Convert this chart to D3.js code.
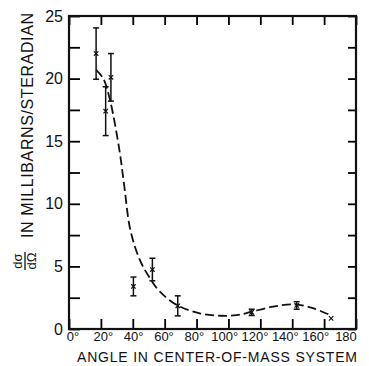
<!DOCTYPE html>
<html>
<head>
<meta charset="utf-8">
<script src="https://cdn.jsdelivr.net/npm/d3@7"></script>
<style>
  body { margin: 0; background: #fff; }
  svg { display: block; font-family: "Liberation Sans", Arial, sans-serif; }
</style>
</head>
<body>
<div id="chart"></div>
<script>
// measured points: angle (deg, CM), cross section (mb/sr), error
const angles = [17, 23, 26.3, 40.4, 52.3, 68.2, 114.6, 142.8, 164.4];
const sigma  = [22.0, 17.4, 20.1, 3.4, 4.75, 1.85, 1.33, 1.88, 0.85];
const errors = [2.05, 1.95, 1.9, 0.75, 0.9, 0.8, 0.25, 0.3, 0];

// dashed fit curve
const curveAngle = [17, 21.5, 25.7, 31.6, 34.5, 38.5, 44.5, 50.8, 57, 67.6, 82, 95, 105, 114.6, 128, 141, 153, 164];
const curveValue = [20.7, 20.0, 18.3, 14.3, 11.6, 7.9, 5.5, 4.05, 2.98, 1.92, 1.25, 1.06, 1.1, 1.38, 1.78, 1.97, 1.66, 1.1];

const xTicks = [0, 20, 40, 60, 80, 100, 120, 140, 160, 180];
const yTicks = [0, 2.5, 5, 7.5, 10, 12.5, 15, 17.5, 20, 22.5, 25];

const W = 369, H = 366;
const svg = d3.select("#chart").append("svg")
    .attr("width", W)
    .attr("height", H);

const x = d3.scaleLinear().domain([0, 180]).range([69, 356]);
const y = d3.scaleLinear().domain([0, 25]).range([329, 16]);
// tick labels sit a little off their ticks in the original
const xLab = d3.scaleLinear().domain([0, 180]).range([73, 346]);

// inward ticks on all four sides
svg.append("g")
    .attr("transform", `translate(${x(0)},0)`)
    .call(d3.axisLeft(y).tickValues(yTicks).tickSizeInner(-11).tickSizeOuter(0).tickPadding(6)
        .tickFormat(d => d % 5 === 0 ? d : ""))
    .call(g => g.select(".domain").remove())
    .call(g => g.selectAll("line").attr("stroke-width", 1.8))
    .call(g => g.selectAll("text").style("font-size", "16px").attr("fill", "#111"));

svg.append("g")
    .attr("transform", `translate(${x(180)},0)`)
    .call(d3.axisRight(y).tickValues(yTicks).tickSizeInner(-8).tickSizeOuter(0).tickFormat(""))
    .call(g => g.select(".domain").remove())
    .call(g => g.selectAll("line").attr("stroke-width", 1.8));

svg.append("g")
    .attr("transform", `translate(0,${y(0)})`)
    .call(d3.axisBottom(x).tickValues(xTicks).tickSizeInner(-10).tickSizeOuter(0).tickFormat(""))
    .call(g => g.select(".domain").remove())
    .call(g => g.selectAll("line").attr("stroke-width", 1.8));

svg.append("g")
    .attr("transform", `translate(0,${y(25)})`)
    .call(d3.axisTop(x).tickValues(xTicks).tickSizeInner(-9).tickSizeOuter(0).tickFormat(""))
    .call(g => g.select(".domain").remove())
    .call(g => g.selectAll("line").attr("stroke-width", 1.8));

// frame
svg.append("rect")
    .attr("x", x(0)).attr("y", y(25))
    .attr("width", x(180) - x(0)).attr("height", y(0) - y(25))
    .attr("fill", "none").attr("stroke", "#111").attr("stroke-width", 2.2);

// x tick labels
svg.append("g").selectAll("text")
    .data(xTicks)
    .join("text")
    .attr("x", d => xLab(d))
    .attr("y", 341)
    .attr("text-anchor", "middle")
    .style("font-size", "13px")
    .attr("fill", "#111")
    .text(d => d === 180 ? "180" : d + "°");

// axis titles
svg.append("text")
    .attr("x", 77).attr("y", 362)
    .attr("textLength", 280)
    .style("font-size", "14px")
    .attr("fill", "#111")
    .text("ANGLE IN CENTER-OF-MASS SYSTEM");

svg.append("text")
    .attr("transform", "translate(33,238) rotate(-90)")
    .attr("textLength", 225)
    .style("font-size", "16px")
    .attr("fill", "#111")
    .text("IN MILLIBARNS/STERADIAN");

const frac = svg.append("g").attr("transform", "translate(25,261) rotate(-90)");
frac.append("text").attr("x", 0).attr("y", -3).attr("text-anchor", "middle")
    .style("font-size", "13px").attr("fill", "#111").text("dσ");
frac.append("line").attr("x1", -9).attr("x2", 9).attr("y1", 0).attr("y2", 0)
    .attr("stroke", "#111").attr("stroke-width", 1.3);
frac.append("text").attr("x", 0).attr("y", 11).attr("text-anchor", "middle")
    .style("font-size", "13px").attr("fill", "#111").text("dΩ");

// dashed curve
const curveData = curveAngle.map((a, i) => ({a: a, v: curveValue[i]}));
svg.append("path")
    .datum(curveData)
    .attr("d", d3.line().x(d => x(d.a)).y(d => y(d.v)).curve(d3.curveCatmullRom.alpha(0.5)))
    .attr("fill", "none")
    .attr("stroke", "#111")
    .attr("stroke-width", 1.8)
    .attr("stroke-dasharray", "9,4");

// error bars and markers
const pts = angles.map((a, i) => ({a: a, v: sigma[i], e: errors[i]}));
const bars = svg.append("g").attr("stroke", "#111").attr("stroke-width", 1.5);
pts.filter(d => d.e > 0).forEach(d => {
    bars.append("line").attr("x1", x(d.a)).attr("x2", x(d.a))
        .attr("y1", y(d.v + d.e)).attr("y2", y(d.v - d.e));
    [d.v + d.e, d.v - d.e].forEach(v => {
        bars.append("line").attr("x1", x(d.a) - 3).attr("x2", x(d.a) + 3)
            .attr("y1", y(v)).attr("y2", y(v));
    });
});

svg.append("g").selectAll("path")
    .data(pts)
    .join("path")
    .attr("d", d => {
        const cx = x(d.a), cy = y(d.v), r = 2.2;
        return `M${cx - r},${cy - r}L${cx + r},${cy + r}M${cx - r},${cy + r}L${cx + r},${cy - r}`;
    })
    .attr("stroke", "#111")
    .attr("stroke-width", 1.2);
</script>
</body>
</html>
